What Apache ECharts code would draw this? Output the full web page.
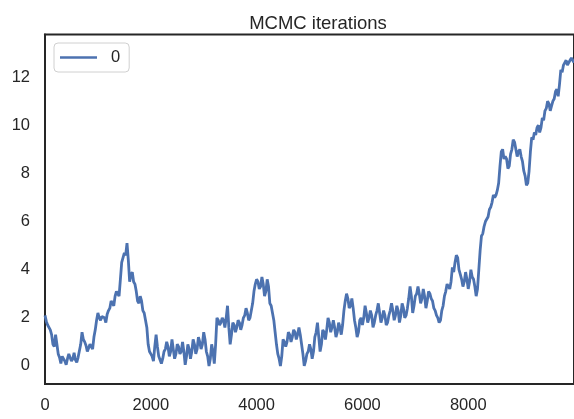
<!DOCTYPE html>
<html>
<head>
<meta charset="utf-8">
<script src="https://cdn.jsdelivr.net/npm/echarts@6/dist/echarts.min.js"></script>
<style>
html,body{margin:0;padding:0;background:#fff;}
#chart{width:574px;height:419px;}
</style>
</head>
<body>
<div id="chart"></div>
<script>
// iteration index (every 50 steps) and trace values
const iterations = [0,50,100,150,200,250,300,350,400,450,500,550,600,650,700,750,800,850,900,950,
1000,1050,1100,1150,1200,1250,1300,1350,1400,1450,1500,1550,1600,1650,1700,1750,1800,1850,1900,1950,
2000,2050,2100,2150,2200,2250,2300,2350,2400,2450,2500,2550,2600,2650,2700,2750,2800,2850,2900,2950,
3000,3050,3100,3150,3200,3250,3300,3350,3400,3450,3500,3550,3600,3650,3700,3750,3800,3850,3900,3950,
4000,4050,4100,4150,4200,4250,4300,4350,4400,4450,4500,4550,4600,4650,4700,4750,4800,4850,4900,4950,
5000,5050,5100,5150,5200,5250,5300,5350,5400,5450,5500,5550,5600,5650,5700,5750,5800,5850,5900,5950,
6000,6050,6100,6150,6200,6250,6300,6350,6400,6450,6500,6550,6600,6650,6700,6750,6800,6850,6900,6950,
7000,7050,7100,7150,7200,7250,7300,7350,7400,7450,7500,7550,7600,7650,7700,7750,7800,7850,7900,7950,
8000,8050,8100,8150,8200,8250,8300,8350,8400,8450,8500,8550,8600,8650,8700,8750,8800,8850,8900,8950,
9000,9050,9100,9150,9200,9250,9300,9350,9400,9450,9500,9550,9600,9650,9700,9750,9800,9850,9900,9950,9999];
const trace = [2.1,1.7,1.5,0.9,1.3,0.5,0.1,0.35,0.05,0.5,0.2,0.55,0.15,0.4,1.4,1.0,0.6,0.9,0.7,1.5,
2.2,1.9,2.1,1.8,2.3,2.7,2.5,3.1,2.9,4.3,4.7,5.1,3.5,3.9,3.4,2.7,2.9,2.3,1.9,0.9,
0.5,0.2,1.3,0.4,0.1,0.6,1.0,0.4,1.1,0.3,0.9,0.5,1.0,0.05,0.9,0.3,1.1,0.5,1.2,0.7,
1.4,0.6,0.0,0.9,0.1,2.0,1.7,2.0,1.6,2.5,0.9,1.8,1.4,1.9,1.5,2.0,2.4,1.9,2.3,3.1,
3.6,3.2,3.7,2.9,3.6,2.6,2.2,1.4,0.5,0.0,1.1,0.8,1.4,1.0,1.5,1.1,1.6,0.9,0.0,0.5,
0.9,0.3,1.2,1.8,0.6,1.5,1.1,2.0,1.4,1.9,1.2,1.8,1.3,2.3,3.0,2.4,2.8,1.9,1.2,1.9,
1.7,2.5,1.8,2.3,1.6,2.1,2.6,1.8,2.3,1.7,2.1,2.6,1.9,2.5,1.8,2.6,2.0,2.4,3.3,2.2,
2.9,3.3,2.6,3.2,2.4,3.1,2.8,2.4,2.1,1.8,2.3,2.9,3.4,3.2,4.1,4.3,4.5,3.8,3.3,3.9,
3.2,4.0,3.6,2.9,4.0,5.4,5.8,6.0,6.5,6.8,7.0,7.3,8.3,9.0,8.7,8.2,8.8,9.4,9.0,8.9,
8.7,8.1,7.5,8.1,9.5,9.7,9.9,9.7,10.3,10.6,11.0,10.6,11.0,11.4,11.2,12.3,12.5,12.7,12.6,12.8,12.6];
// values read half-way between the iterations above (25 steps later)
const traceMid = [1.85,1.75,1.3,0.8,0.9,0.35,0.4,0.2,0.3,0.45,0.3,0.25,0.35,0.9,1.1,0.85,0.75,0.95,1.2,1.9,
2.0,2.05,2.0,2.15,2.4,2.75,2.9,3.0,3.6,4.5,4.6,4.4,3.8,3.5,3.1,2.6,2.7,2.2,1.6,0.6,
0.4,0.8,0.8,0.45,0.3,0.7,0.8,0.6,0.7,0.5,0.8,0.6,0.6,0.4,0.7,0.6,0.9,0.7,1.0,0.9,
1.1,0.4,0.3,0.6,0.9,1.9,1.8,1.9,2.0,1.6,1.3,1.7,1.6,1.8,1.7,2.1,2.2,2.0,2.6,3.4,
3.5,3.3,3.4,3.1,3.3,2.5,1.9,0.9,0.3,0.4,1.0,1.0,1.3,1.2,1.4,1.3,1.3,0.5,0.2,0.6,
0.7,0.6,1.4,1.2,0.9,1.4,1.5,1.8,1.6,1.6,1.4,1.6,1.7,2.7,2.8,2.5,2.4,1.6,1.4,2.0,
2.0,2.2,2.0,2.1,1.8,2.3,2.2,2.0,2.1,1.8,2.3,2.3,2.1,2.3,2.1,2.4,2.1,2.8,2.9,2.5,
3.0,3.0,2.8,2.9,2.7,3.0,2.7,2.3,2.0,1.9,2.5,3.1,3.3,3.5,3.9,4.6,4.0,3.6,3.5,3.6,
3.5,3.7,3.3,3.2,4.8,5.5,6.0,6.2,6.6,7.1,7.1,7.6,8.9,8.6,8.6,8.3,9.0,9.3,8.7,9.0,
8.5,7.9,7.6,8.9,9.4,9.6,10.0,9.9,10.2,10.7,10.9,10.8,11.1,11.5,11.7,12.2,12.6,12.5,12.7,12.7];
const seriesName = '0';
const yTicks = [0,2,4,6,8,10,12];
const xTicks = [0,2000,4000,6000,8000];

const data = [];
iterations.forEach((it, i) => {
  data.push([it, trace[i]]);
  if (i < traceMid.length) data.push([(it + iterations[i + 1]) / 2, traceMid[i]]);
});
const chart = echarts.init(document.getElementById('chart'));
const FONT = 'Liberation Sans, Arial, sans-serif';
const DARK = '#262626';
chart.setOption({
  animation: false,
  backgroundColor: '#ffffff',
  title: {
    text: 'MCMC iterations',
    left: 313, top: 9, textAlign: 'center',
    textStyle: {fontFamily: FONT, fontSize: 18.5, fontWeight: 'normal', color: DARK}
  },
  legend: {
    data: [seriesName],
    left: 54, top: 43,
    orient: 'vertical',
    icon: 'rect', itemWidth: 37, itemHeight: 2.5,
    padding: [6, 9, 6, 6],
    borderColor: '#d0d0d0', borderWidth: 1, borderRadius: 4,
    backgroundColor: '#ffffff',
    textStyle: {fontFamily: FONT, fontSize: 16.5, color: DARK, padding: [0, 0, 0, 9]}
  },
  grid: {
    left: 45, top: 34.5, width: 536, height: 349.5,
    show: true, borderColor: DARK, borderWidth: 2, backgroundColor: 'transparent'
  },
  xAxis: {
    type: 'value', min: 0, max: 9999,
    axisLine: {show: true, onZero: false, lineStyle: {color: DARK, width: 2}},
    axisTick: {show: false},
    splitLine: {show: false},
    axisLabel: {customValues: xTicks, margin: 13, fontFamily: FONT, fontSize: 16.5, color: DARK,
      formatter: v => String(v)}
  },
  yAxis: {
    type: 'value', min: -0.75, max: 13.77,
    axisLine: {show: true, onZero: false, lineStyle: {color: DARK, width: 2}},
    axisTick: {show: false},
    splitLine: {show: false},
    axisLabel: {customValues: yTicks, margin: 15, fontFamily: FONT, fontSize: 16.5, color: DARK,
      formatter: v => String(v)}
  },
  series: [{
    name: seriesName, type: 'line', data: data,
    showSymbol: false, symbol: 'none',
    lineStyle: {color: '#4C72B0', width: 2.8},
    itemStyle: {color: '#4C72B0'}
  }]
});
</script>
</body>
</html>
